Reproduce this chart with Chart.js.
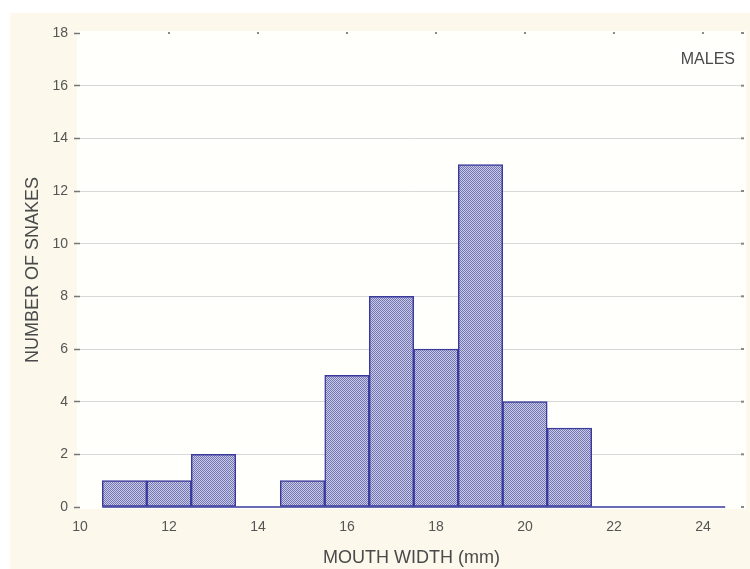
<!DOCTYPE html>
<html>
<head>
<meta charset="utf-8">
<script src="https://cdn.jsdelivr.net/npm/chart.js@4/dist/chart.umd.min.js"></script>
<style>
  html, body { margin: 0; padding: 0; background: #fff; }
  #wrap { width: 750px; height: 569px; }
</style>
</head>
<body>
<div id="wrap"><canvas id="histChart" width="750" height="569"></canvas></div>
<script>
// histogram bins (centre of each 1 mm class) and counts
const binCentres = [11, 12, 13, 14, 15, 16, 17, 18, 19, 20, 21, 22, 23, 24];
const snakeCounts = [1, 1, 2, 0, 1, 5, 8, 6, 13, 4, 3, 0, 0, 0];
const xTicks = [10, 12, 14, 16, 18, 20, 22, 24];
const yTicks = [0, 2, 4, 6, 8, 10, 12, 14, 16, 18];

// dotted hatch fill like the scanned bars
function hatch() {
    const c = document.createElement('canvas');
    c.width = 2; c.height = 2;
    const g = c.getContext('2d');
    g.fillStyle = '#c9cae3';
    g.fillRect(0, 0, 2, 2);
    g.fillStyle = '#7476b6';
    g.fillRect(0, 0, 1, 1);
    g.fillRect(1, 1, 1, 1);
    return g.createPattern(c, 'repeat');
}

const paperBg = {
    id: 'paperBg',
    beforeDraw(chart) {
        const { ctx, chartArea: a } = chart;
        ctx.save();
        ctx.fillStyle = '#fcf8ec';
        ctx.fillRect(10, 13, chart.width - 10, chart.height - 13);
        ctx.fillStyle = '#fffffc';
        ctx.fillRect(a.left - 3, a.top - 2, a.right - a.left + 6, a.bottom - a.top + 4);
        ctx.restore();
    },
    afterDatasetsDraw(chart) {
        const { ctx, scales: { x, y } } = chart;
        // baseline under the bins (visible where count is 0)
        ctx.save();
        ctx.strokeStyle = '#3a3a9c';
        ctx.lineWidth = 1.5;
        ctx.beginPath();
        const y0 = y.getPixelForValue(0);
        ctx.moveTo(x.getPixelForValue(binCentres[0] - 0.5), y0);
        ctx.lineTo(x.getPixelForValue(binCentres[binCentres.length - 1] + 0.5), y0);
        ctx.stroke();
        // small right-hand tick marks
        ctx.fillStyle = '#888';
        yTicks.forEach(v => {
            ctx.fillRect(chart.chartArea.right - 2, y.getPixelForValue(v) - 1, 3, 2);
        });
        // top tick dots
        xTicks.forEach(v => {
            if (v > 10) ctx.fillRect(x.getPixelForValue(v) - 1, chart.chartArea.top - 1, 2, 2);
        });
        ctx.font = '16px "Liberation Sans", Arial, sans-serif';
        ctx.fillStyle = '#4a4a4a';
        ctx.textAlign = 'right';
        ctx.textBaseline = 'middle';
        ctx.fillText('MALES', chart.chartArea.right - 8, 60);
        ctx.restore();
    }
};

const ctx = document.getElementById('histChart').getContext('2d');
const histChart = new Chart(ctx, {
    type: 'bar',
    data: {
        datasets: [{
            label: 'Males',
            data: binCentres.map((b, i) => ({ x: b, y: snakeCounts[i] })),
            backgroundColor: hatch(),
            borderColor: '#3a3a9c',
            borderWidth: 1.5,
            borderSkipped: false,
            barPercentage: 1,
            categoryPercentage: 1
        }]
    },
    options: {
        responsive: false,
        animation: false,
        layout: { padding: { left: 10, top: 33, right: 7, bottom: 0 } },
        plugins: {
            legend: { display: false },
            tooltip: { enabled: false }
        },
        scales: {
            x: {
                type: 'linear',
                min: 10,
                max: 24.9,
                offset: false,
                afterBuildTicks: s => { s.ticks = xTicks.map(v => ({ value: v })); },
                afterFit: s => { s.height = 62; },
                grid: { display: false, drawTicks: false },
                border: { display: false },
                ticks: {
                    padding: 12,
                    color: '#555',
                    font: { family: '"Liberation Sans", Arial, sans-serif', size: 14 },
                    maxRotation: 0
                },
                title: {
                    display: true,
                    text: 'MOUTH WIDTH (mm)',
                    color: '#4a4a4a',
                    font: { family: '"Liberation Sans", Arial, sans-serif', size: 18 },
                    padding: { top: 5, bottom: 0 }
                }
            },
            y: {
                min: 0,
                max: 18,
                afterBuildTicks: s => { s.ticks = yTicks.map(v => ({ value: v })); },
                afterFit: s => { s.width = 70; },
                grid: {
                    color: c => (c.tick && (c.tick.value === 0 || c.tick.value === 18)) ? 'rgba(0,0,0,0)' : '#d8d8d8',
                    tickColor: '#777',
                    tickLength: 6,
                    tickWidth: 1.5
                },
                border: { display: false },
                ticks: {
                    padding: 6,
                    color: '#555',
                    font: { family: '"Liberation Sans", Arial, sans-serif', size: 14 }
                },
                title: {
                    display: true,
                    text: 'NUMBER OF SNAKES',
                    color: '#4a4a4a',
                    font: { family: '"Liberation Sans", Arial, sans-serif', size: 18 },
                    padding: { top: 12, bottom: 4 }
                }
            }
        }
    },
    plugins: [paperBg]
});
</script>
</body>
</html>
